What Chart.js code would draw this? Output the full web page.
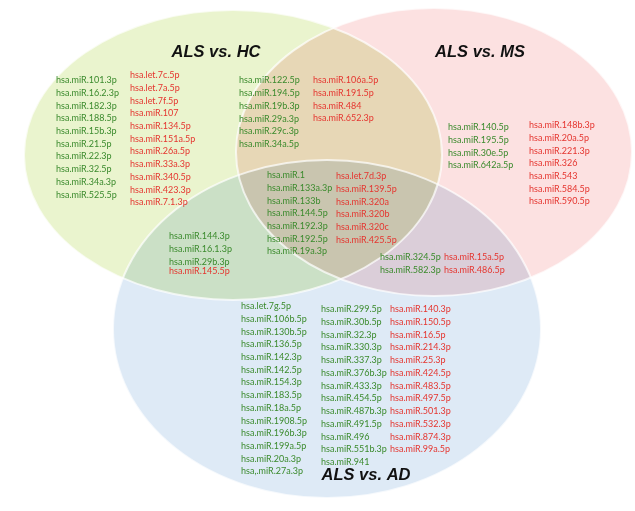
<!DOCTYPE html>
<html>
<head>
<meta charset="utf-8">
<script src="https://cdn.jsdelivr.net/npm/chart.js@4"></script>
<style>
  html, body { margin: 0; padding: 0; background: #fff; }
  canvas { display: block; }
</style>
</head>
<body>
<canvas id="venn" width="635" height="511"></canvas>
<script>
// set names
const sets = ['ALS vs. HC', 'ALS vs. MS', 'ALS vs. AD'];

// miRNAs per region (green = up, red = down)
const hcOnlyUp = ['hsa.miR.101.3p', 'hsa.miR.16.2.3p', 'hsa.miR.182.3p', 'hsa.miR.188.5p', 'hsa.miR.15b.3p',
  'hsa.miR.21.5p', 'hsa.miR.22.3p', 'hsa.miR.32.5p', 'hsa.miR.34a.3p', 'hsa.miR.525.5p'];
const hcOnlyDown = ['hsa.let.7c.5p', 'hsa.let.7a.5p', 'hsa.let.7f.5p', 'hsa.miR.107', 'hsa.miR.134.5p',
  'hsa.miR.151a.5p', 'hsa.miR.26a.5p', 'hsa.miR.33a.3p', 'hsa.miR.340.5p', 'hsa.miR.423.3p', 'hsa.miR.7.1.3p'];
const hcMsUp = ['hsa.miR.122.5p', 'hsa.miR.194.5p', 'hsa.miR.19b.3p', 'hsa.miR.29a.3p', 'hsa.miR.29c.3p', 'hsa.miR.34a.5p'];
const hcMsDown = ['hsa.miR.106a.5p', 'hsa.miR.191.5p', 'hsa.miR.484', 'hsa.miR.652.3p'];
const msOnlyUp = ['hsa.miR.140.5p', 'hsa.miR.195.5p', 'hsa.miR.30e.5p', 'hsa.miR.642a.5p'];
const msOnlyDown = ['hsa.miR.148b.3p', 'hsa.miR.20a.5p', 'hsa.miR.221.3p', 'hsa.miR.326', 'hsa.miR.543',
  'hsa.miR.584.5p', 'hsa.miR.590.5p'];
const coreUp = ['hsa.miR.1', 'hsa.miR.133a.3p', 'hsa.miR.133b', 'hsa.miR.144.5p', 'hsa.miR.192.3p',
  'hsa.miR.192.5p', 'hsa.miR.19a.3p'];
const coreDown = ['hsa.let.7d.3p', 'hsa.miR.139.5p', 'hsa.miR.320a', 'hsa.miR.320b', 'hsa.miR.320c', 'hsa.miR.425.5p'];
const hcAdUp = ['hsa.miR.144.3p', 'hsa.miR.16.1.3p', 'hsa.miR.29b.3p'];
const hcAdDown = ['hsa.miR.145.5p'];
const msAdUp = ['hsa.miR.324.5p', 'hsa.miR.582.3p'];
const msAdDown = ['hsa.miR.15a.5p', 'hsa.miR.486.5p'];
const adOnlyUpA = ['hsa.let.7g.5p', 'hsa.miR.106b.5p', 'hsa.miR.130b.5p', 'hsa.miR.136.5p', 'hsa.miR.142.3p',
  'hsa.miR.142.5p', 'hsa.miR.154.3p', 'hsa.miR.183.5p', 'hsa.miR.18a.5p', 'hsa.miR.1908.5p', 'hsa.miR.196b.3p',
  'hsa.miR.199a.5p', 'hsa.miR.20a.3p', 'hsa,.miR.27a.3p'];
const adOnlyUpB = ['hsa.miR.299.5p', 'hsa.miR.30b.5p', 'hsa.miR.32.3p', 'hsa.miR.330.3p', 'hsa.miR.337.3p',
  'hsa.miR.376b.3p', 'hsa.miR.433.3p', 'hsa.miR.454.5p', 'hsa.miR.487b.3p', 'hsa.miR.491.5p', 'hsa.miR.496',
  'hsa.miR.551b.3p', 'hsa.miR.941'];
const adOnlyDown = ['hsa.miR.140.3p', 'hsa.miR.150.5p', 'hsa.miR.16.5p', 'hsa.miR.214.3p', 'hsa.miR.25.3p',
  'hsa.miR.424.5p', 'hsa.miR.483.5p', 'hsa.miR.497.5p', 'hsa.miR.501.3p', 'hsa.miR.532.3p', 'hsa.miR.874.3p',
  'hsa.miR.99a.5p'];

// layout (chart units = pixels of the 635x511 picture)
const ellipses = [
  { cx: 233, cy: 155, rx: 209, ry: 145, fill: 'rgb(234,244,206)' },
  { cx: 434, cy: 152, rx: 198, ry: 144, fill: 'rgb(252,225,225)' },
  { cx: 327, cy: 329, rx: 214, ry: 169, fill: 'rgb(222,234,246)' }
];
const titlePos = [[216, 52], [480, 52], [366, 475]];
const GREEN = '#3a8a2c', RED = '#e5352f';
const blocks = [
  [hcOnlyUp, 56, 80, 12.7, GREEN], [hcOnlyDown, 130, 75, 12.7, RED],
  [hcMsUp, 239, 80, 12.8, GREEN], [hcMsDown, 313, 80, 12.7, RED],
  [msOnlyUp, 448, 127, 12.7, GREEN], [msOnlyDown, 529, 125, 12.7, RED],
  [coreUp, 267, 175, 12.7, GREEN], [coreDown, 336, 176, 12.7, RED],
  [hcAdUp, 169, 236, 12.9, GREEN], [hcAdDown, 169, 271, 12.9, RED],
  [msAdUp, 380, 257, 13, GREEN], [msAdDown, 444, 257, 13, RED],
  [adOnlyUpA, 241, 306, 12.7, GREEN], [adOnlyUpB, 321, 309, 12.75, GREEN], [adOnlyDown, 390, 309, 12.75, RED]
];

const datasets = blocks.map(([names, x, y, dy, color]) => ({
  data: names.map((n, i) => ({ x: x, y: y + i * dy, label: n })),
  textColor: color, font: '10px Lato', align: 'left', squeeze: 0.9, pointRadius: 0
}));
datasets.push({
  data: sets.map((s, i) => ({ x: titlePos[i][0], y: titlePos[i][1], label: s })),
  textColor: '#111', font: 'italic bold 16.5px "Liberation Sans", Arial', align: 'center', squeeze: 1, pointRadius: 0
});

const vennPlugin = {
  id: 'venn',
  beforeDatasetsDraw(chart) {
    const { ctx, scales: { x, y } } = chart;
    ctx.save();
    ctx.fillStyle = '#fff';
    ctx.fillRect(0, 0, chart.width, chart.height);
    ctx.globalCompositeOperation = 'multiply';
    const paths = ellipses.map(e => {
      const px = x.getPixelForValue(e.cx), py = y.getPixelForValue(e.cy);
      const rx = Math.abs(x.getPixelForValue(e.cx + e.rx) - px);
      const ry = Math.abs(y.getPixelForValue(e.cy + e.ry) - py);
      const p = new Path2D();
      p.ellipse(px, py, rx, ry, 0, 0, Math.PI * 2);
      ctx.fillStyle = e.fill;
      ctx.fill(p);
      return p;
    });
    ctx.globalCompositeOperation = 'source-over';
    ctx.strokeStyle = 'rgba(255,255,255,0.7)';
    ctx.lineWidth = 2;
    paths.forEach(p => ctx.stroke(p));
    ctx.restore();
  },
  afterDatasetsDraw(chart) {
    const { ctx } = chart;
    ctx.save();
    ctx.textBaseline = 'middle';
    chart.data.datasets.forEach((ds, i) => {
      ctx.fillStyle = ds.textColor;
      ctx.font = ds.font;
      ctx.textAlign = ds.align;
      chart.getDatasetMeta(i).data.forEach((pt, j) => {
        const t = ds.data[j].label;
        ctx.fillText(t, pt.x, pt.y, ctx.measureText(t).width * ds.squeeze);
      });
    });
    ctx.restore();
  }
};

new Chart(document.getElementById('venn'), {
  type: 'scatter',
  data: { datasets: datasets },
  options: {
    responsive: false,
    animation: false,
    layout: { padding: 0 },
    plugins: { legend: { display: false }, tooltip: { enabled: false } },
    scales: {
      x: { type: 'linear', min: 0, max: 635, display: false },
      y: { type: 'linear', min: 0, max: 511, reverse: true, display: false }
    }
  },
  plugins: [vennPlugin]
});
</script>
</body>
</html>
